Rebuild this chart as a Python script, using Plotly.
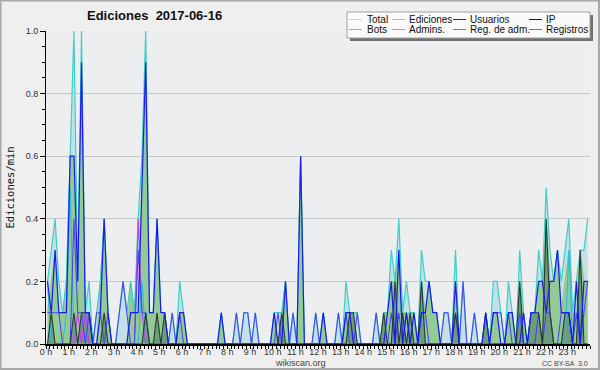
import plotly.graph_objects as go

# 10-minute bins (144 per day), values in edits/min
total = [.2,.3,.4,.2,.1,.2, .6,1.0,.2,1.0,.1,.2,
         0,.1,.2,.4,.1,0, 0,.1,.2,.1,.2,.1,
         .4,.6,1.0,.1,.1,.4, .1,.1,0,.1,0,.2,
         .1,0,0,0,0,0, 0,0,0,0,.1,0,
         0,0,.1,0,.1,.1, 0,.1,0,0,0,0,
         .1,.1,.1,.2,0,.1, 0,.6,0,0,0,.1,
         0,.1,0,0,0,.1, 0,.2,.1,.1,.1,0,
         0,0,0,.1,0,.1, .1,.3,.2,.4,.1,.2,
         .1,.1,0,.3,.2,.2, .1,.1,0,.1,.1,0,
         .3,0,.2,0,0,.1, 0,0,.1,0,.2,.2,
         .1,0,.2,.1,0,.3, .1,0,.1,.1,.3,.2,
         .5,.3,.2,.3,.2,.3, .4,.1,.2,.3,.3,.4]
ediciones = [.1,.2,.3,.1,.1,.2, .6,.6,.1,.9,.1,.1,
             0,0,.2,.4,.1,0, 0,0,0,0,.2,.1,
             .1,.5,.9,.1,.1,.4, .1,.1,0,0,0,.1,
             .1,0,0,0,0,0, 0,0,0,0,.1,0,
             0,0,0,0,0,0, 0,0,0,0,0,0,
             .1,0,.1,.2,0,0, 0,.6,0,0,0,0,
             0,.1,0,0,0,0, 0,.1,.1,.1,0,0,
             0,0,0,0,0,.1, .1,.2,.2,.3,.1,.1,
             .1,.1,0,.2,.1,.2, .1,.1,0,0,0,0,
             .2,0,0,0,0,0, 0,0,.1,0,.1,.1,
             0,0,.1,.1,0,.2, .1,0,.1,.1,.2,.2,
             .4,.2,.2,.3,.1,.2, .3,.1,.1,.3,.2,.2]
usuarios = [.2,.1,.3,.1,.1,.1, .6,.6,.2,.9,.1,.1,
            0,0,.1,.4,.1,0, 0,0,0,0,.1,.1,
            .1,.5,.9,.1,.1,.4, .1,.1,0,0,0,.1,
            .1,0,0,0,0,0, 0,0,0,0,.1,0,
            0,0,0,0,0,0, 0,0,0,0,0,0,
            .1,0,0,.2,0,0, 0,.6,0,0,0,0,
            0,.1,0,0,0,0, 0,.1,.1,0,0,0,
            0,0,0,0,0,0, .1,.2,0,.3,0,.1,
            0,.1,0,.1,.1,.2, .1,.1,0,0,0,0,
            .2,0,0,0,0,0, 0,0,.1,0,.1,.1,
            0,0,.1,.1,0,0, .1,0,.1,.1,.2,.2,
            .1,.2,.2,.3,.1,.1, .1,0,.2,0,.2,.2]
ip = [0,.1,0,0,0,0, 0,.1,0,.1,.1,.1,
      0,0,0,.1,0,0, 0,0,0,0,0,0,
      0,0,.1,0,0,.1, 0,.1,0,0,0,0,
      0,0,0,0,0,0, 0,0,0,0,0,0,
      0,0,0,0,0,0, 0,0,0,0,0,0,
      0,0,.1,0,0,0, 0,0,0,0,0,0,
      0,0,0,0,0,0, 0,0,.1,.1,0,0,
      0,0,0,0,0,.1, 0,0,.2,0,.1,0,
      .1,0,0,.2,0,0, 0,0,0,0,0,0,
      .1,0,0,0,0,0, 0,0,.1,0,0,0,
      0,0,0,0,0,.2, 0,0,.1,.1,.1,0,
      .4,.1,0,0,0,.1, .1,0,0,.3,0,0]
registros = [.1,.1,.1,.1,0,0, 0,.4,.1,.1,0,.1,
             0,.1,.1,0,.1,0, 0,.1,.2,.1,0,0,
             .3,.1,.1,0,0,0, 0,0,0,.1,0,.1,
             0,0,0,0,0,0, 0,0,0,0,0,0,
             0,0,.1,0,.1,.1, 0,.1,0,0,0,0,
             0,.1,0,0,0,.1, 0,0,0,0,0,.1,
             0,0,0,0,0,.1, 0,.1,0,0,.1,0,
             0,0,0,.1,0,0, 0,.1,0,.1,0,.1,
             0,0,0,.1,.1,0, 0,0,0,.1,.1,0,
             .1,0,.2,0,0,.1, 0,0,0,0,.1,.1,
             .1,0,.1,0,0,.1, 0,0,0,0,.1,0,
             .1,.1,0,0,.1,.1, .1,0,.1,0,.1,.2]
admins = [.2,0,0,0,0,.1, .5,0,0,0,0,0] + [0]*12 + [0,.2,0,0,0,0] + [0]*6 + [0]*60 + \
         [0,0,0,.2,0,0] + [0]*36 + [.3,0,0,0,0,0]
reg_adm = [0]*8 + [.1,0,.1,0] + [0]*12 + [.4,.1,0,0,0,0] + [0]*114
bots = [0]*144

hour_labels = [f"{h} h" for h in range(24)]

x = [(i * 10 + 4) / 60 for i in range(144)]

L, R, T, B = 46, 10, 31, 26
W, H = 600, 370
PW, PH = W - L - R, H - T - B


def px(v):
    return (v - L) / PW


def py(v):
    return (H - B - v) / PH


fig = go.Figure()
# fills
fig.add_trace(go.Scatter(x=x, y=total, mode="lines", line=dict(width=0, color="#c4dfe8"),
                         fill="tozeroy", fillcolor="#c4dfe8", showlegend=False))
fig.add_trace(go.Scatter(x=x, y=ediciones, mode="lines", line=dict(width=1, color="#8ccc8c"),
                         fill="tozeroy", fillcolor="#94cb94", showlegend=False))
fig.add_trace(go.Scatter(x=x, y=ip, mode="lines", line=dict(width=0, color="#4a7a68"),
                         fill="tozeroy", fillcolor="rgba(60,100,90,0.45)", showlegend=False))
# lines
fig.add_trace(go.Scatter(x=x, y=total, mode="lines", line=dict(width=1.2, color="#3ccfc4"), showlegend=False))
fig.add_trace(go.Scatter(x=x, y=bots, mode="lines", line=dict(width=1, color="#f0a030"), showlegend=False))
fig.add_trace(go.Scatter(x=x, y=admins, mode="lines", line=dict(width=1.1, color="#30b8e0"), showlegend=False))
fig.add_trace(go.Scatter(x=x, y=reg_adm, mode="lines", line=dict(width=1.1, color="#c040e8"), showlegend=False))
fig.add_trace(go.Scatter(x=x, y=registros, mode="lines", line=dict(width=1.1, color="#4848f4"), showlegend=False))
fig.add_trace(go.Scatter(x=x, y=ip, mode="lines", line=dict(width=1.1, color="#2a3a32"), showlegend=False))
fig.add_trace(go.Scatter(x=x, y=usuarios, mode="lines", line=dict(width=1.2, color="#1a1af0"), showlegend=False))

shapes = []
annotations = []
# outer border
shapes.append(dict(type="rect", xref="paper", yref="paper", x0=px(0.5), x1=px(599), y0=py(369), y1=py(0.5),
                   line=dict(color="#a8a8a8", width=2), fillcolor="rgba(0,0,0,0)", layer="below"))
# legend box with shadow
shapes.append(dict(type="rect", xref="paper", yref="paper", x0=px(350), x1=px(593), y0=py(41), y1=py(15),
                   line=dict(width=0), fillcolor="#707070"))
shapes.append(dict(type="rect", xref="paper", yref="paper", x0=px(347), x1=px(590), y0=py(38), y1=py(12),
                   line=dict(color="#a0a0a0", width=1), fillcolor="#fafafa"))
legend_items = [
    ("Total", "#a8e4e8"), ("Ediciones", "#8cd48c"), ("Usuarios", "#2828e0"), ("IP", "#202020"),
    ("Bots", "#f0a030"), ("Admins.", "#40c8e0"), ("Reg. de adm.", "#d040e0"), ("Registros", "#6868f0"),
]
col_line = [349, 392, 453, 529]
col_text = [366, 408, 469, 545]
rows = [19.5, 29.5]
for k, (name, col) in enumerate(legend_items):
    r, c = divmod(k, 4)
    shapes.append(dict(type="line", xref="paper", yref="paper", x0=px(col_line[c]), x1=px(col_line[c] + 13),
                       y0=py(rows[r]), y1=py(rows[r]), line=dict(color=col, width=1)))
    annotations.append(dict(text=name, xref="paper", yref="paper", x=px(col_text[c] - 1), y=py(rows[r]),
                            xanchor="left", yanchor="middle", showarrow=False,
                            font=dict(family="Liberation Sans", size=10, color="#111111")))

annotations.append(dict(text="<b>Ediciones  2017-06-16</b>", xref="paper", yref="paper", x=px(154), y=py(16),
                        xanchor="center", yanchor="middle", showarrow=False,
                        font=dict(family="Liberation Sans", size=13, color="#111111")))
annotations.append(dict(text="Ediciones/min", xref="paper", yref="paper", x=px(9), y=0.5, textangle=-90,
                        xanchor="center", yanchor="middle", showarrow=False,
                        font=dict(family="DejaVu Sans Mono", size=10.5, color="#111111")))
annotations.append(dict(text="wikiscan.org", xref="paper", yref="paper", x=px(300), y=py(362.5),
                        xanchor="center", yanchor="middle", showarrow=False,
                        font=dict(family="Liberation Sans", size=9, color="#444444")))
annotations.append(dict(text="CC BY-SA  3.0", xref="paper", yref="paper", x=px(590), y=py(363),
                        xanchor="right", yanchor="middle", showarrow=False,
                        font=dict(family="Liberation Sans", size=7, color="#444444")))

fig.update_layout(
    width=W, height=H,
    margin=dict(l=L, r=R, t=T, b=B, autoexpand=False),
    paper_bgcolor="#efefef",
    plot_bgcolor="#edeef0",
    shapes=shapes,
    annotations=annotations,
    showlegend=False,
)
fig.update_xaxes(range=[0, 24], tickvals=list(range(24)), ticktext=hour_labels, automargin=False,
                 showgrid=False, zeroline=False, showline=True, linecolor="black", linewidth=2,
                 ticks="outside", ticklen=3, tickcolor="black", tickwidth=1, ticklabelstandoff=-5,
                 minor=dict(dtick=1 / 6, tick0=0, ticks="outside", ticklen=3, tickcolor="black", showgrid=False),
                 tickfont=dict(family="Liberation Sans", size=9, color="#333333"), fixedrange=True)
fig.update_yaxes(range=[0, 1.0], dtick=0.2, tick0=0, tickformat=".1f", automargin=False,
                 showgrid=True, gridcolor="#c8c8c8", gridwidth=1, zeroline=False,
                 showline=True, linecolor="black", linewidth=1,
                 ticks="outside", ticklen=5, tickcolor="black",
                 minor=dict(dtick=0.05, ticks="outside", ticklen=3, tickcolor="black", showgrid=False),
                 tickfont=dict(family="Liberation Sans", size=9, color="#333333"), fixedrange=True)

fig.write_html("out.html")
